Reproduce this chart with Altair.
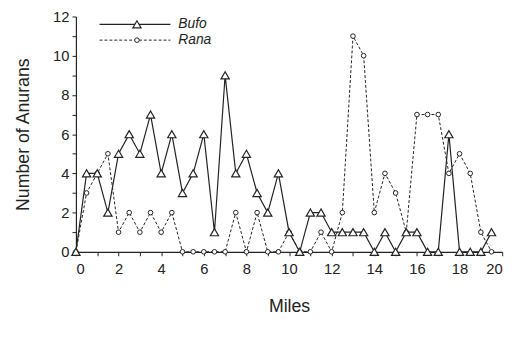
import altair as alt
import pandas as pd

miles = [i * 0.5 for i in range(40)]
bufo = [0, 4, 4, 2, 5, 6, 5, 7, 4, 6, 3, 4, 6, 1, 9, 4, 5, 3, 2, 4,
        1, 0, 2, 2, 1, 1, 1, 1, 0, 1, 0, 1, 1, 0, 0, 6, 0, 0, 0, 1]
rana = [0, 3, 4, 5, 1, 2, 1, 2, 1, 2, 0, 0, 0, 0, 0, 2, 0, 2, 0, 0,
        1, 0, 0, 1, 0, 2, 11, 10, 2, 4, 3, 1, 7, 7, 7, 4, 5, 4, 1, 0]

df_b = pd.DataFrame({"Miles": miles, "N": bufo})
df_r = pd.DataFrame({"Miles": miles, "N": rana})

INK = "#222222"
FONT = "Liberation Sans"

xs = alt.Scale(domain=[0, 20], nice=False)
ys = alt.Scale(domain=[0, 12], nice=False)

xax = alt.Axis(title="Miles", values=list(range(0, 21)),
               labelExpr="datum.value % 2 ? '' : datum.label",
               labelOverlap=False, labelPadding=6,
               grid=False, tickSize=4, titlePadding=22)
yax = alt.Axis(title="Number of Anurans", values=list(range(0, 13)),
               labelExpr="datum.value % 2 ? '' : datum.label",
               labelOverlap=False, labelPadding=3,
               grid=False, tickSize=4, titlePadding=20)

X = alt.X("Miles:Q", scale=xs, axis=xax)
Y = alt.Y("N:Q", scale=ys, axis=yax)

base_b = alt.Chart(df_b)
base_r = alt.Chart(df_r)

line_r = base_r.mark_line(color=INK, strokeWidth=1, strokeDash=[3, 2]).encode(x=X, y=Y)
line_b = base_b.mark_line(color=INK, strokeWidth=1.2).encode(x=X, y=Y)
pts_r = base_r.mark_point(shape="circle", size=22, filled=True, fill="white",
                          stroke=INK, strokeWidth=1, opacity=1).encode(x=X, y=Y)
pts_b = base_b.mark_point(shape="triangle-up", size=70, filled=True, fill="white",
                          stroke=INK, strokeWidth=1.2, opacity=1).encode(x=X, y=Y)

# in-plot legend
leg = pd.DataFrame({"name": ["Bufo"]})
leg2 = pd.DataFrame({"name": ["Rana"]})
lb_line = alt.Chart(leg).mark_rule(color=INK, strokeWidth=1.2).encode(
    x=alt.value(24), x2=alt.value(96), y=alt.value(8))
lb_pt = alt.Chart(leg).mark_point(shape="triangle-up", size=70, filled=True, fill="white",
                                  stroke=INK, strokeWidth=1.2, opacity=1).encode(
    x=alt.value(62), y=alt.value(8))
lb_txt = alt.Chart(leg).mark_text(align="left", baseline="middle", font=FONT,
                                  fontStyle="italic", fontSize=14, color=INK).encode(
    x=alt.value(104), y=alt.value(8), text="name:N")
lr_line = alt.Chart(leg2).mark_rule(color=INK, strokeWidth=1, strokeDash=[3, 2]).encode(
    x=alt.value(24), x2=alt.value(96), y=alt.value(24))
lr_pt = alt.Chart(leg2).mark_point(shape="circle", size=22, filled=True, fill="white",
                                   stroke=INK, strokeWidth=1, opacity=1).encode(
    x=alt.value(62), y=alt.value(24))
lr_txt = alt.Chart(leg2).mark_text(align="left", baseline="middle", font=FONT,
                                   fontStyle="italic", fontSize=14, color=INK).encode(
    x=alt.value(104), y=alt.value(24), text="name:N")

chart = alt.layer(
    line_r, line_b, pts_r, pts_b,
    lb_line, lb_pt, lb_txt, lr_line, lr_pt, lr_txt,
).properties(
    width=433, height=239,
    autosize=alt.AutoSizeParams(type="none"),
    padding={"left": 69, "top": 6, "right": 12, "bottom": 90},
    background="white",
).configure_view(stroke=None).configure_axis(
    domainColor=INK, tickColor=INK, labelColor=INK, titleColor=INK,
    labelFont=FONT, titleFont=FONT, labelFontSize=15, titleFontSize=18,
    titleFontWeight="normal", domainWidth=1.2, labelOverlap=False,
)

chart.save("out.html", embed_options={"renderer": "svg", "actions": False})
